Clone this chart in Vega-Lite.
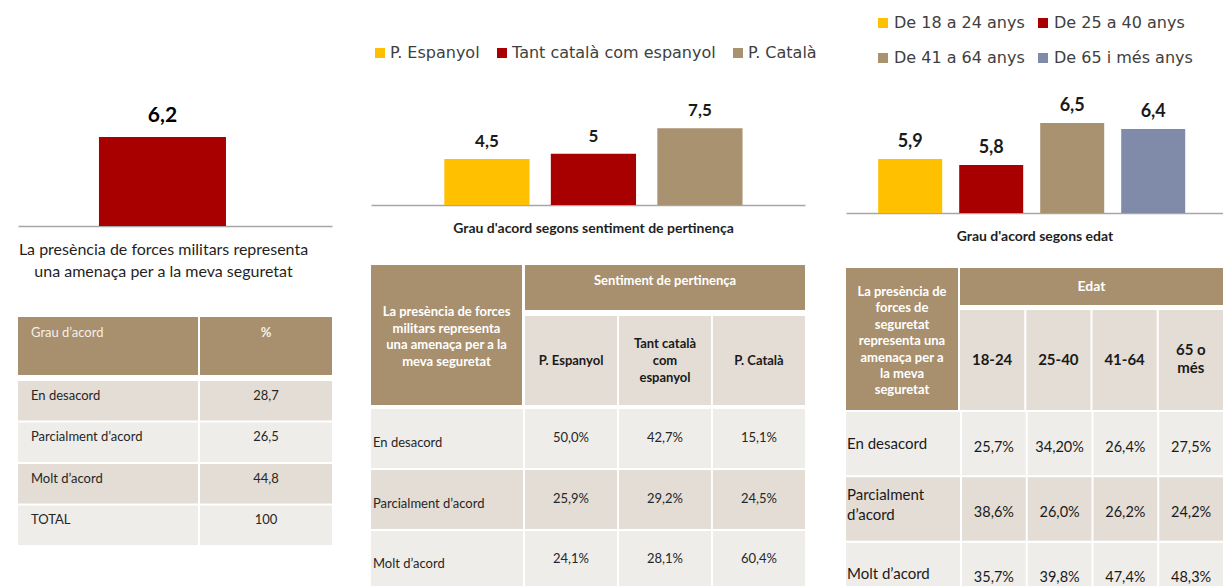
{
  "$schema": "https://vega.github.io/schema/vega-lite/v6.json",
  "background": "white",
  "padding": {"left": 18, "top": 0, "right": 0, "bottom": 0},
  "datasets": {
    "general": [{"grup": "Total", "valor": 6.2}],
    "sentiment": [
      {"grup": "P. Espanyol", "valor": 4.5},
      {"grup": "Tant català com espanyol", "valor": 5},
      {"grup": "P. Català", "valor": 7.5}
    ],
    "edat": [
      {"grup": "De 18 a 24 anys", "valor": 5.9},
      {"grup": "De 25 a 40 anys", "valor": 5.8},
      {"grup": "De 41 a 64 anys", "valor": 6.5},
      {"grup": "De 65 i més anys", "valor": 6.4}
    ],
    "taula_general": [
      {"grau": "En desacord", "percentatge": "28,7"},
      {"grau": "Parcialment d’acord", "percentatge": "26,5"},
      {"grau": "Molt d’acord", "percentatge": "44,8"},
      {"grau": "TOTAL", "percentatge": "100"}
    ],
    "columnes_sentiment": [
      {"columna": "P. Espanyol", "etiqueta": "P. Espanyol"},
      {"columna": "Tant català com espanyol", "etiqueta": "Tant català\ncom\nespanyol"},
      {"columna": "P. Català", "etiqueta": "P. Català"}
    ],
    "files_sentiment": [
      {"fila": "En desacord", "etiqueta": "En desacord"},
      {"fila": "Parcialment d’acord", "etiqueta": "Parcialment d’acord"},
      {"fila": "Molt d’acord", "etiqueta": "Molt d’acord"}
    ],
    "taula_sentiment": [
      {"fila": "En desacord", "columna": "P. Espanyol", "valor": "50,0%"},
      {"fila": "En desacord", "columna": "Tant català com espanyol", "valor": "42,7%"},
      {"fila": "En desacord", "columna": "P. Català", "valor": "15,1%"},
      {"fila": "Parcialment d’acord", "columna": "P. Espanyol", "valor": "25,9%"},
      {"fila": "Parcialment d’acord", "columna": "Tant català com espanyol", "valor": "29,2%"},
      {"fila": "Parcialment d’acord", "columna": "P. Català", "valor": "24,5%"},
      {"fila": "Molt d’acord", "columna": "P. Espanyol", "valor": "24,1%"},
      {"fila": "Molt d’acord", "columna": "Tant català com espanyol", "valor": "28,1%"},
      {"fila": "Molt d’acord", "columna": "P. Català", "valor": "60,4%"}
    ],
    "columnes_edat": [
      {"columna": "18-24", "etiqueta": "18-24"},
      {"columna": "25-40", "etiqueta": "25-40"},
      {"columna": "41-64", "etiqueta": "41-64"},
      {"columna": "65 o més", "etiqueta": "65 o\nmés"}
    ],
    "files_edat": [
      {"fila": "En desacord", "etiqueta": "En desacord"},
      {"fila": "Parcialment d’acord", "etiqueta": "Parcialment\nd’acord"},
      {"fila": "Molt d’acord", "etiqueta": "Molt d’acord"}
    ],
    "taula_edat": [
      {"fila": "En desacord", "columna": "18-24", "valor": "25,7%"},
      {"fila": "En desacord", "columna": "25-40", "valor": "34,20%"},
      {"fila": "En desacord", "columna": "41-64", "valor": "26,4%"},
      {"fila": "En desacord", "columna": "65 o més", "valor": "27,5%"},
      {"fila": "Parcialment d’acord", "columna": "18-24", "valor": "38,6%"},
      {"fila": "Parcialment d’acord", "columna": "25-40", "valor": "26,0%"},
      {"fila": "Parcialment d’acord", "columna": "41-64", "valor": "26,2%"},
      {"fila": "Parcialment d’acord", "columna": "65 o més", "valor": "24,2%"},
      {"fila": "Molt d’acord", "columna": "18-24", "valor": "35,7%"},
      {"fila": "Molt d’acord", "columna": "25-40", "valor": "39,8%"},
      {"fila": "Molt d’acord", "columna": "41-64", "valor": "47,4%"},
      {"fila": "Molt d’acord", "columna": "65 o més", "valor": "48,3%"}
    ]
  },
  "spacing": 39,
  "resolve": {"scale": {"color": "independent"}, "legend": {"color": "independent"}},
  "hconcat": [
    {
      "spacing": 38,
      "resolve": {"scale": {"color": "independent"}, "legend": {"color": "independent"}},
      "vconcat": [
        {
          "width": 314,
          "height": 226,
          "data": {"name": "general"},
          "encoding": {
            "x": {
              "field": "grup", "type": "nominal",
              "scale": {"paddingInner": 0, "paddingOuter": 0.736, "align": 0.433},
              "axis": {
                "labels": false, "ticks": false, "domain": true, "grid": false,
                "domainColor": "#A6A6A6", "domainWidth": 1.5, "minExtent": 0,
                "title": ["La presència de forces militars representa", "una amenaça per a la meva seguretat"],
                "titleFont": "Lato", "titleFontSize": 16, "titleFontWeight": "normal",
                "titleColor": "#1F1F1F", "titleLineHeight": 22, "titlePadding": 15, "titleX": 145
              }
            },
            "y": {"field": "valor", "type": "quantitative", "scale": {"domain": [0, 15.74]}, "axis": null}
          },
          "layer": [
            {"mark": {"type": "bar", "color": "#A80000"}},
            {
              "mark": {"type": "text", "baseline": "alphabetic", "dy": -15, "font": "Lato", "fontSize": 21, "fontWeight": "bold", "color": "#000000"},
              "encoding": {"text": {"field": "valor", "type": "quantitative", "format": ".1~f"}}
            }
          ]
        },
        {
          "spacing": 6,
          "resolve": {"scale": {"color": "independent"}, "legend": {"color": "independent"}},
          "vconcat": [
            {
              "spacing": 2,
              "hconcat": [
                {
                  "width": 180, "height": 58,
                  "data": {"values": [{"columna": "Grau d’acord"}]},
                  "layer": [
                    {"mark": {"type": "rect", "color": "#A8906E"}, "encoding": {}},
                    {"mark": {"type": "text", "align": "left", "dx": -77, "dy": -13, "fontSize": 13, "color": "#F4EFE8"}, "encoding": {"text": {"field": "columna"}}}
                  ]
                },
                {
                  "width": 132, "height": 58,
                  "data": {"values": [{"columna": "%"}]},
                  "layer": [
                    {"mark": {"type": "rect", "color": "#A8906E"}, "encoding": {}},
                    {"mark": {"type": "text", "dy": -13, "fontSize": 13, "fontWeight": "bold", "color": "#F4EFE8"}, "encoding": {"text": {"field": "columna"}}}
                  ]
                }
              ]
            },
            {
              "spacing": 2,
              "hconcat": [
                {
                  "width": 180, "height": 164,
                  "data": {"name": "taula_general"},
                  "encoding": {"y": {"field": "grau", "type": "nominal", "sort": null, "axis": null, "scale": {"paddingInner": 0.05, "paddingOuter": 0}}},
                  "layer": [
                    {"mark": "rect", "encoding": {"color": {"field": "grau", "type": "nominal", "legend": null, "scale": {"domain": ["En desacord", "Parcialment d’acord", "Molt d’acord", "TOTAL"], "range": ["#E3DDD5", "#EFEDE9", "#E3DDD5", "#EFEDE9"]}}}},
                    {"mark": {"type": "text", "align": "left", "dx": -77, "dy": -5, "fontSize": 13, "color": "#262626"}, "encoding": {"text": {"field": "grau"}}}
                  ]
                },
                {
                  "width": 132, "height": 164,
                  "data": {"name": "taula_general"},
                  "encoding": {"y": {"field": "grau", "type": "nominal", "sort": null, "axis": null, "scale": {"paddingInner": 0.05, "paddingOuter": 0}}},
                  "layer": [
                    {"mark": "rect", "encoding": {"color": {"field": "grau", "type": "nominal", "legend": null, "scale": {"domain": ["En desacord", "Parcialment d’acord", "Molt d’acord", "TOTAL"], "range": ["#E3DDD5", "#EFEDE9", "#E3DDD5", "#EFEDE9"]}}}},
                    {"mark": {"type": "text", "dy": -5, "fontSize": 13, "color": "#262626"}, "encoding": {"text": {"field": "percentatge"}}}
                  ]
                }
              ]
            }
          ]
        }
      ]
    },
    {
      "spacing": 29,
      "resolve": {"scale": {"color": "independent"}, "legend": {"color": "independent"}},
      "hconcat": [
        {
          "spacing": 30,
          "resolve": {"scale": {"color": "independent"}, "legend": {"color": "independent"}},
          "vconcat": [
            {
              "width": 434,
              "height": 205,
              "data": {"name": "sentiment"},
              "encoding": {
                "x": {
                  "field": "grup", "type": "nominal", "sort": null,
                  "scale": {"paddingInner": 0.2, "paddingOuter": 0.6376, "align": 0.54},
                  "axis": {
                    "labels": false, "ticks": false, "domain": true, "grid": false,
                    "domainColor": "#A6A6A6", "domainWidth": 1.5, "minExtent": 0,
                    "title": "Grau d'acord segons sentiment de pertinença",
                    "titleFont": "Lato", "titleFontSize": 14, "titleFontWeight": "bold",
                    "titleColor": "#1F1F1F", "titlePadding": 16, "titleX": 222
                  }
                },
                "y": {"field": "valor", "type": "quantitative", "scale": {"domain": [0, 20]}, "axis": null}
              },
              "layer": [
                {
                  "mark": {"type": "bar"},
                  "encoding": {
                    "color": {
                      "field": "grup", "type": "nominal",
                      "scale": {"domain": ["P. Espanyol", "Tant català com espanyol", "P. Català"], "range": ["#FFC000", "#A80000", "#A9926F"]},
                      "legend": {
                        "orient": "none", "legendX": 1, "legendY": 45, "direction": "horizontal", "title": null,
                        "symbolType": "square", "symbolSize": 100, "symbolStrokeWidth": 0,
                        "labelFont": "DejaVu Sans", "labelFontSize": 16, "labelColor": "#404040",
                        "labelOffset": 2, "columnPadding": 14, "padding": 0, "labelLimit": 400
                      }
                    }
                  }
                },
                {
                  "mark": {"type": "text", "baseline": "alphabetic", "dy": -12, "font": "Lato", "fontSize": 17, "fontWeight": "bold", "color": "#1A1A1A"},
                  "encoding": {"text": {"field": "valor", "type": "quantitative", "format": ".1~f"}}
                }
              ]
            },
            {
              "spacing": 4,
              "resolve": {"scale": {"color": "independent"}, "legend": {"color": "independent"}},
              "vconcat": [
                {
                  "spacing": 3,
                  "hconcat": [
                    {
                      "width": 151, "height": 140,
                      "data": {"values": [{"pregunta": "La presència de forces\nmilitars representa\nuna amenaça per a la\nmeva seguretat"}]},
                      "layer": [
                        {"mark": {"type": "rect", "color": "#A8906E"}, "encoding": {}},
                        {"mark": {"type": "text", "lineBreak": "\n", "lineHeight": 16.7, "dy": -23, "fontSize": 13, "fontWeight": "bold", "color": "#FFFFFF"}, "encoding": {"text": {"field": "pregunta"}}}
                      ]
                    },
                    {
                      "spacing": 6,
                      "vconcat": [
                        {
                          "width": 280, "height": 45,
                          "data": {"values": [{"titol": "Sentiment de pertinença"}]},
                          "layer": [
                            {"mark": {"type": "rect", "color": "#A8906E"}, "encoding": {}},
                            {"mark": {"type": "text", "dy": -7, "fontSize": 13, "fontWeight": "bold", "color": "#FFFFFF"}, "encoding": {"text": {"field": "titol"}}}
                          ]
                        },
                        {
                          "width": 280, "height": 89,
                          "data": {"name": "columnes_sentiment"},
                          "encoding": {"x": {"field": "columna", "type": "nominal", "sort": null, "axis": null, "scale": {"paddingInner": 0.02, "paddingOuter": 0}}},
                          "layer": [
                            {"mark": {"type": "rect", "color": "#E3DDD5"}},
                            {"transform": [{"filter": "indexof(datum.etiqueta, '\\n') < 0"}], "mark": {"type": "text", "fontSize": 13, "fontWeight": "bold", "color": "#1A1A1A"}, "encoding": {"text": {"field": "etiqueta"}}},
                            {"transform": [{"filter": "indexof(datum.etiqueta, '\\n') >= 0"}], "mark": {"type": "text", "lineBreak": "\n", "lineHeight": 17, "dy": -17, "fontSize": 13, "fontWeight": "bold", "color": "#1A1A1A"}, "encoding": {"text": {"field": "etiqueta"}}}
                          ]
                        }
                      ]
                    }
                  ]
                },
                {
                  "spacing": 2,
                  "hconcat": [
                    {
                      "width": 152, "height": 181,
                      "data": {"name": "files_sentiment"},
                      "encoding": {"y": {"field": "fila", "type": "nominal", "sort": null, "axis": null, "scale": {"paddingInner": 0.03, "paddingOuter": 0}}},
                      "layer": [
                        {"mark": "rect", "encoding": {"color": {"field": "fila", "type": "nominal", "legend": null, "scale": {"domain": ["En desacord", "Parcialment d’acord", "Molt d’acord"], "range": ["#EFEDE9", "#E3DDD5", "#EFEDE9"]}}}},
                        {"mark": {"type": "text", "align": "left", "dx": -74, "dy": 4, "fontSize": 13, "color": "#262626"}, "encoding": {"text": {"field": "etiqueta"}}}
                      ]
                    },
                    {
                      "width": 280, "height": 181,
                      "data": {"name": "taula_sentiment"},
                      "encoding": {
                        "x": {"field": "columna", "type": "nominal", "sort": null, "axis": null, "scale": {"paddingInner": 0.02, "paddingOuter": 0}},
                        "y": {"field": "fila", "type": "nominal", "sort": null, "axis": null, "scale": {"paddingInner": 0.03, "paddingOuter": 0}}
                      },
                      "layer": [
                        {"mark": "rect", "encoding": {"color": {"field": "fila", "type": "nominal", "legend": null, "scale": {"domain": ["En desacord", "Parcialment d’acord", "Molt d’acord"], "range": ["#EFEDE9", "#E3DDD5", "#EFEDE9"]}}}},
                        {"mark": {"type": "text", "dy": -1, "fontSize": 13, "color": "#262626"}, "encoding": {"text": {"field": "valor"}}}
                      ]
                    }
                  ]
                }
              ]
            }
          ]
        },
        {
          "spacing": 25,
          "resolve": {"scale": {"color": "independent"}, "legend": {"color": "independent"}},
          "vconcat": [
            {
              "width": 377,
              "height": 213,
              "data": {"name": "edat"},
              "encoding": {
                "x": {
                  "field": "grup", "type": "nominal", "sort": null,
                  "scale": {"paddingInner": 0.21, "paddingOuter": 0.432, "align": 0.46},
                  "axis": {
                    "labels": false, "ticks": false, "domain": true, "grid": false,
                    "domainColor": "#A6A6A6", "domainWidth": 1.5, "minExtent": 0,
                    "title": "Grau d'acord segons edat",
                    "titleFont": "Lato", "titleFontSize": 14, "titleFontWeight": "bold",
                    "titleColor": "#1F1F1F", "titlePadding": 16
                  }
                },
                "y": {"field": "valor", "type": "quantitative", "scale": {"domain": [5, 8.55], "zero": false}, "axis": null}
              },
              "layer": [
                {
                  "mark": {"type": "bar", "clip": true},
                  "encoding": {
                    "color": {
                      "field": "grup", "type": "nominal",
                      "scale": {"domain": ["De 18 a 24 anys", "De 25 a 40 anys", "De 41 a 64 anys", "De 65 i més anys"], "range": ["#FFC000", "#A80000", "#A9926F", "#7F8BA8"]},
                      "legend": {
                        "orient": "none", "legendX": 29, "legendY": 15, "direction": "horizontal", "columns": 2, "title": null,
                        "symbolType": "square", "symbolSize": 100, "symbolStrokeWidth": 0,
                        "labelFont": "DejaVu Sans", "labelFontSize": 16, "labelColor": "#404040",
                        "labelOffset": 3, "columnPadding": 10, "rowPadding": 19, "padding": 0, "labelLimit": 400
                      }
                    }
                  }
                },
                {
                  "mark": {"type": "text", "baseline": "alphabetic", "dy": -12, "font": "Lato", "fontSize": 18, "fontWeight": "bold", "color": "#1A1A1A"},
                  "encoding": {"text": {"field": "valor", "type": "quantitative", "format": ".1~f"}}
                }
              ]
            },
            {
              "spacing": 2,
              "resolve": {"scale": {"color": "independent"}, "legend": {"color": "independent"}},
              "vconcat": [
                {
                  "spacing": 2,
                  "hconcat": [
                    {
                      "width": 112, "height": 142,
                      "data": {"values": [{"pregunta": "La presència de\nforces de\nseguretat\nrepresenta una\namenaça per a\nla meva\nseguretat"}]},
                      "layer": [
                        {"mark": {"type": "rect", "color": "#A8906E"}, "encoding": {}},
                        {"mark": {"type": "text", "lineBreak": "\n", "lineHeight": 16.4, "dy": -47, "fontSize": 13, "fontWeight": "bold", "color": "#FFFFFF"}, "encoding": {"text": {"field": "pregunta"}}}
                      ]
                    },
                    {
                      "spacing": 5,
                      "vconcat": [
                        {
                          "width": 263, "height": 37,
                          "data": {"values": [{"titol": "Edat"}]},
                          "layer": [
                            {"mark": {"type": "rect", "color": "#A8906E"}, "encoding": {}},
                            {"mark": {"type": "text", "fontSize": 14, "fontWeight": "bold", "color": "#FFFFFF"}, "encoding": {"text": {"field": "titol"}}}
                          ]
                        },
                        {
                          "width": 263, "height": 100,
                          "data": {"name": "columnes_edat"},
                          "encoding": {"x": {"field": "columna", "type": "nominal", "sort": null, "axis": null, "scale": {"paddingInner": 0.03, "paddingOuter": 0}}},
                          "layer": [
                            {"mark": {"type": "rect", "color": "#E3DDD5"}},
                            {"transform": [{"filter": "indexof(datum.etiqueta, '\\n') < 0"}], "mark": {"type": "text", "fontSize": 15, "fontWeight": "bold", "color": "#1A1A1A"}, "encoding": {"text": {"field": "etiqueta"}}},
                            {"transform": [{"filter": "indexof(datum.etiqueta, '\\n') >= 0"}], "mark": {"type": "text", "lineBreak": "\n", "lineHeight": 18, "dy": -10, "fontSize": 15, "fontWeight": "bold", "color": "#1A1A1A"}, "encoding": {"text": {"field": "etiqueta"}}}
                          ]
                        }
                      ]
                    }
                  ]
                },
                {
                  "spacing": 2,
                  "hconcat": [
                    {
                      "width": 114, "height": 194,
                      "data": {"name": "files_edat"},
                      "encoding": {"y": {"field": "fila", "type": "nominal", "sort": null, "axis": null, "scale": {"paddingInner": 0.03, "paddingOuter": 0}}},
                      "layer": [
                        {"mark": "rect", "encoding": {"color": {"field": "fila", "type": "nominal", "legend": null, "scale": {"domain": ["En desacord", "Parcialment d’acord", "Molt d’acord"], "range": ["#EFEDE9", "#E3DDD5", "#EFEDE9"]}}}},
                        {"transform": [{"filter": "indexof(datum.etiqueta, '\\n') < 0"}], "mark": {"type": "text", "align": "left", "dx": -56, "fontSize": 15, "color": "#1A1A1A"}, "encoding": {"text": {"field": "etiqueta"}}},
                        {"transform": [{"filter": "indexof(datum.etiqueta, '\\n') >= 0"}], "mark": {"type": "text", "align": "left", "dx": -56, "dy": -14, "lineBreak": "\n", "lineHeight": 20, "fontSize": 15, "color": "#1A1A1A"}, "encoding": {"text": {"field": "etiqueta"}}}
                      ]
                    },
                    {
                      "width": 261, "height": 194,
                      "data": {"name": "taula_edat"},
                      "encoding": {
                        "x": {"field": "columna", "type": "nominal", "sort": null, "axis": null, "scale": {"paddingInner": 0.03, "paddingOuter": 0}},
                        "y": {"field": "fila", "type": "nominal", "sort": null, "axis": null, "scale": {"paddingInner": 0.03, "paddingOuter": 0}}
                      },
                      "layer": [
                        {"mark": "rect", "encoding": {"color": {"field": "fila", "type": "nominal", "legend": null, "scale": {"domain": ["En desacord", "Parcialment d’acord", "Molt d’acord"], "range": ["#EFEDE9", "#E3DDD5", "#EFEDE9"]}}}},
                        {"mark": {"type": "text", "dy": 4, "fontSize": 14.5, "color": "#1A1A1A"}, "encoding": {"text": {"field": "valor"}}}
                      ]
                    }
                  ]
                }
              ]
            }
          ]
        }
      ]
    }
  ],
  "config": {
    "view": {"stroke": null},
    "font": "Lato",
    "locale": {"number": {"decimal": ",", "thousands": ".", "grouping": [3], "currency": ["", " €"]}}
  }
}
